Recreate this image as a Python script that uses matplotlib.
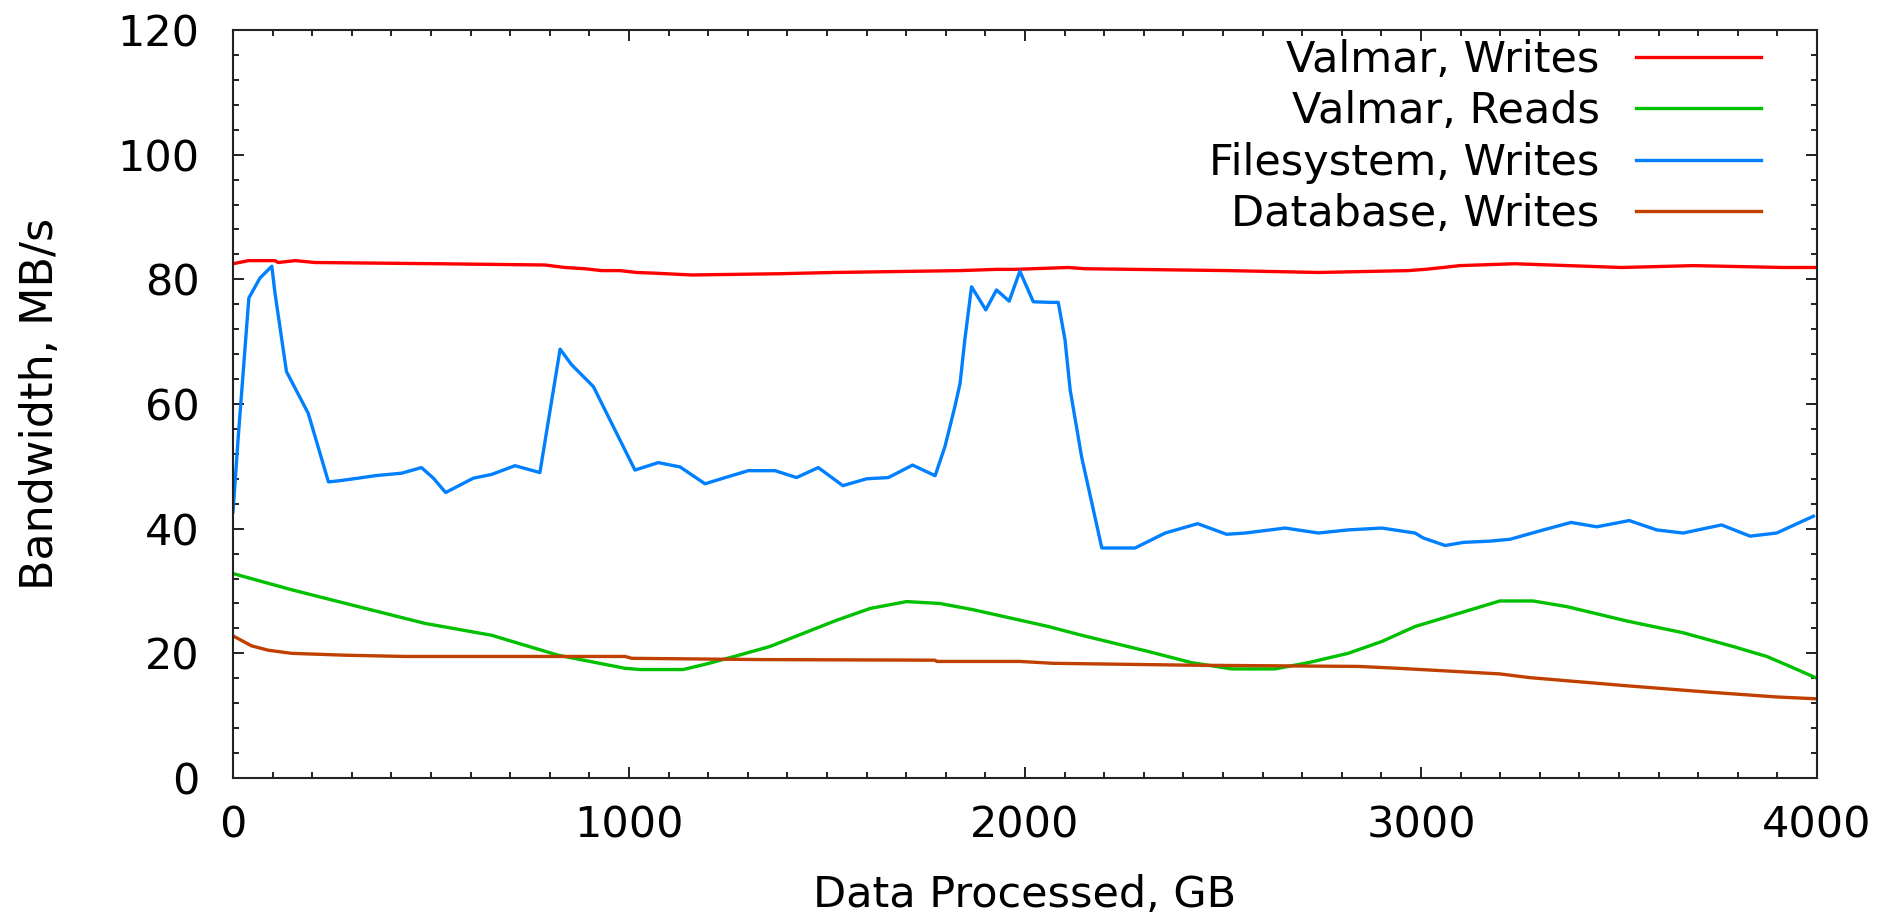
import numpy as np
import matplotlib
matplotlib.use("Agg")
import matplotlib.pyplot as plt
from matplotlib.ticker import MultipleLocator

# Valmar, Writes
vw_x = [0, 39, 106, 114, 157, 207, 518, 788, 838, 889, 931, 977, 1019, 1061, 1158,
        1381, 1516, 1836, 1928, 1975, 2109, 2152, 2513, 2741, 2968, 3010, 3056,
        3098, 3237, 3372, 3507, 3688, 3915, 4000]
vw_y = [82.5, 83.0, 83.0, 82.7, 83.0, 82.7, 82.5, 82.3, 81.9, 81.7, 81.4, 81.4, 81.1,
        81.0, 80.7, 80.9, 81.1, 81.4, 81.6, 81.6, 81.9, 81.7, 81.4, 81.1, 81.4,
        81.6, 81.9, 82.2, 82.5, 82.2, 81.9, 82.2, 81.9, 81.9]

# Valmar, Reads
vr_x = [0, 148, 316, 485, 653, 821, 990, 1028, 1137, 1196, 1272, 1356, 1440, 1524,
        1609, 1701, 1785, 1869, 1975, 2059, 2143, 2227, 2311, 2421, 2522, 2631,
        2715, 2816, 2901, 2985, 3199, 3283, 3368, 3519, 3662, 3788, 3873, 3932, 4000]
vr_y = [32.8, 30.2, 27.5, 24.8, 22.9, 19.7, 17.6, 17.4, 17.4, 18.3, 19.6, 21.1,
        23.2, 25.3, 27.2, 28.3, 28.0, 27.0, 25.5, 24.3, 22.9, 21.6, 20.3, 18.5,
        17.5, 17.5, 18.5, 20.0, 21.9, 24.3, 28.4, 28.4, 27.5, 25.2, 23.3, 21.1,
        19.5, 17.9, 16.0]

# Filesystem, Writes
fs_x = [0, 13, 40, 68, 98, 106, 135, 190, 241, 270, 316, 359, 426, 476, 506, 537,
        607, 653, 712, 775, 826, 855, 910, 1015, 1074, 1129, 1192, 1238, 1301,
        1369, 1423, 1478, 1540, 1600, 1655, 1716, 1773, 1798, 1823, 1836, 1848,
        1865, 1901, 1928, 1960, 1987, 2021, 2067, 2084, 2101, 2114, 2143, 2194,
        2278, 2354, 2436, 2509, 2556, 2657, 2741, 2816, 2901, 2985, 3006, 3061,
        3107, 3174, 3225, 3309, 3379, 3444, 3526, 3595, 3662, 3759, 3831, 3898,
        3991]
fs_y = [42.7, 54.5, 77.0, 80.2, 82.1, 77.8, 65.2, 58.5, 47.5, 47.7, 48.1, 48.5,
        48.9, 49.8, 48.1, 45.8, 48.1, 48.7, 50.1, 49.0, 68.8, 66.3, 62.8, 49.4,
        50.6, 49.9, 47.2, 48.1, 49.3, 49.3, 48.2, 49.8, 46.9, 48.0, 48.2, 50.2,
        48.5, 53.2, 59.6, 63.3, 70.3, 78.8, 75.1, 78.3, 76.5, 81.3, 76.4, 76.3,
        76.3, 70.3, 62.3, 51.5, 36.9, 36.9, 39.3, 40.8, 39.1, 39.3, 40.1, 39.3,
        39.8, 40.1, 39.3, 38.5, 37.3, 37.8, 38.0, 38.3, 39.8, 41.0, 40.3, 41.3,
        39.8, 39.3, 40.6, 38.8, 39.3, 42.0]

# Database, Writes
db_x = [0, 47, 89, 148, 283, 434, 990, 1007, 1331, 1773, 1777, 1987, 2071, 2412,
        2842, 2943, 3199, 3275, 3519, 3721, 3898, 4000]
db_y = [22.8, 21.2, 20.5, 20.0, 19.7, 19.5, 19.5, 19.2, 19.0, 18.9, 18.7, 18.7,
        18.4, 18.1, 17.9, 17.6, 16.7, 16.1, 14.8, 13.8, 13.0, 12.7]

plt.rcParams['font.family'] = ['DejaVu Sans']
fs = 31

fig = plt.figure(figsize=(18.91, 9.17), dpi=100)
ax = fig.add_axes([233 / 1891, 1 - 778 / 917, 1584 / 1891, 748 / 917])

lw = 2.4
ax.plot(vw_x, vw_y, color='#ff0000', lw=lw, label='Valmar, Writes')
ax.plot(vr_x, vr_y, color='#00c000', lw=lw, label='Valmar, Reads')
ax.plot(fs_x, fs_y, color='#0080ff', lw=lw, label='Filesystem, Writes')
ax.plot(db_x, db_y, color='#c04000', lw=lw, label='Database, Writes')

ax.set_xlim(0, 4000)
ax.set_ylim(0, 120)
ax.xaxis.set_major_locator(MultipleLocator(1000))
ax.xaxis.set_minor_locator(MultipleLocator(100))
ax.yaxis.set_major_locator(MultipleLocator(20))
ax.yaxis.set_minor_locator(MultipleLocator(4))
ax.tick_params(which='both', direction='in', top=True, right=True, width=1.4,
               color='#222222', labelsize=fs)
ax.tick_params(which='major', length=8)
ax.tick_params(which='minor', length=4)
ax.tick_params(axis='y', pad=24)
ax.tick_params(axis='x', pad=19)
for s in ax.spines.values():
    s.set_linewidth(1.5)
    s.set_color('#222222')

ax.set_xlabel('Data Processed, GB', fontsize=fs, labelpad=20)
ax.set_ylabel('Bandwidth, MB/s', fontsize=32, labelpad=40)

ax.legend(loc='upper right', bbox_to_anchor=(1761 / 1891, 1 - 39 / 917),
          bbox_transform=fig.transFigure, markerfirst=False, frameon=False,
          fontsize=fs, handlelength=2.9, handletextpad=0.85, labelspacing=0.22,
          borderpad=0, borderaxespad=0)

fig.savefig('out.png', dpi=100)
